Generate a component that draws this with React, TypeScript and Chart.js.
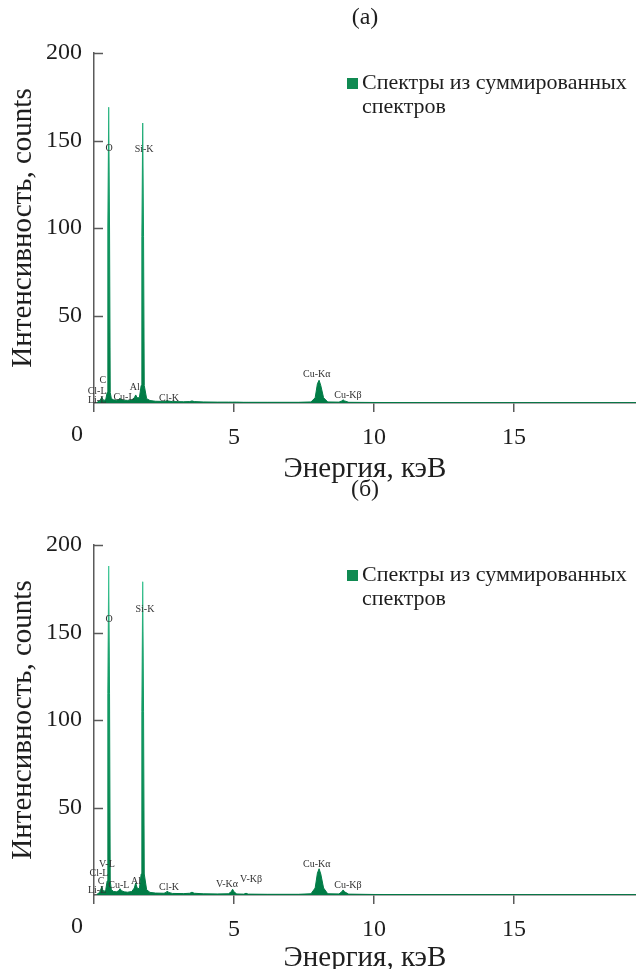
import React, { useEffect, useRef } from 'react';
import { Chart, registerables } from 'chart.js';

Chart.register(...registerables);

// ---------- data ----------
const energy = [
  0.1, 0.2, 0.25, 0.28, 0.31, 0.36, 0.42, 0.47, 0.495, 0.525,
  0.555, 0.58, 0.62, 0.7, 0.8, 0.88, 0.93, 0.98, 1.08, 1.2,
  1.35, 1.44, 1.49, 1.54, 1.62, 1.685, 1.71, 1.74, 1.77, 1.795,
  1.88, 2.0, 2.2, 2.5, 2.58, 2.62, 2.66, 2.8, 3.2, 3.42,
  3.5, 3.58, 3.9, 4.4, 4.8, 4.9, 4.95, 5.0, 5.1, 5.35,
  5.43, 5.51, 6.2, 7.3, 7.75, 7.9, 7.98, 8.04, 8.1, 8.2,
  8.35, 8.75, 8.85, 8.9, 8.95, 9.1, 10, 12, 14, 16,
  18, 19.4,
];

const countsA = [
  0.3, 1.2, 2.5, 3.5, 2.2, 1.5, 2, 6, 100, 169,
  100, 6, 2.5, 1.8, 1.6, 2, 2.6, 2, 1.6, 1.5,
  1.8, 3, 4.6, 3, 3, 10, 95, 160, 95, 10,
  2.5, 1.4, 1, 0.9, 1.1, 1.4, 1.1, 0.8, 0.7, 0.8,
  1.2, 0.8, 0.6, 0.5, 0.5, 0.5, 0.5, 0.5, 0.5, 0.4,
  0.4, 0.4, 0.4, 0.4, 0.6, 3, 11, 13, 10, 3,
  0.6, 0.5, 1.2, 1.8, 1.2, 0.4, 0.3, 0.2, 0.2, 0.2,
  0.2, 0.2,
];

const countsB = [
  0.3, 1.5, 3.5, 5, 3, 2, 3, 8, 115, 188,
  115, 8, 3, 2, 1.8, 2.4, 3.6, 2.5, 1.8, 1.6,
  2, 4, 6.9, 4, 3.5, 12, 105, 179, 105, 12,
  3, 1.5, 1.1, 1, 1.5, 2.3, 1.5, 0.9, 0.8, 1,
  1.6, 1, 0.7, 0.6, 0.7, 1.8, 3.3, 1.8, 0.6, 0.5,
  1, 0.5, 0.4, 0.4, 0.7, 4, 12.5, 15, 12, 4,
  0.7, 0.6, 1.8, 2.9, 1.8, 0.5, 0.3, 0.2, 0.2, 0.2,
  0.2, 0.2,
];

const xTickValues = [0, 5, 10, 15];
const yTickValues = [50, 100, 150, 200];

const peakNamesA = ['O', 'Si-K', 'C', 'Cl-L', 'Li-L', 'Cu-L', 'Al', 'Cl-K', 'Cu-Kα', 'Cu-Kβ'];
const peakEnergyA = [0.54, 1.79, 0.32, 0.11, 0.11, 1.07, 1.46, 2.68, 7.96, 9.07];
const peakCountA = [145.7, 145, 13, 6.9, 1.7, 3.4, 9.1, 2.9, 16.6, 4.6];

const peakNamesB = ['O', 'Si-K', 'V-L', 'Cl-L', 'C', 'Li-L', 'Cu-L', 'Al', 'Cl-K', 'V-Kα', 'V-Kβ', 'Cu-Kα', 'Cu-Kβ'];
const peakEnergyB = [0.54, 1.82, 0.46, 0.18, 0.25, 0.11, 0.89, 1.5, 2.68, 4.75, 5.61, 7.96, 9.07];
const peakCountB = [157.7, 163, 17.7, 12.6, 8, 2.9, 5.7, 8, 4.6, 6.3, 9.1, 17.7, 5.7];

const legendLines = ['Спектры из суммированных', 'спектров'];
const xTitle = 'Энергия, кэВ';
const yTitle = 'Интенсивность, counts';

// ---------- styles ----------
const SERIF = '"Liberation Serif", "Times New Roman", "DejaVu Serif", serif';
const AXIS = '#5a5a5a';
const TEXT = '#1e1e1e';
const GREEN = '#108a52';

type Spec = {
  panel: string;
  counts: number[];
  names: string[];
  pe: number[];
  pc: number[];
  top: number;
  height: number;
  padTop: number;
  axisY: number;
  titleY: number;
  xTitleLH: number;
};

function peakGradient(c: any, stops: [number, string][]) {
  const area = c.chart.chartArea;
  if (!area) return GREEN;
  const g = c.chart.ctx.createLinearGradient(0, area.top, 0, area.bottom);
  stops.forEach(([o, col]) => g.addColorStop(o, col));
  return g;
}

function buildConfig(s: Spec): any {
  const points = energy.map((e, i) => ({ x: e, y: s.counts[i] }));
  const overlay = {
    id: 'overlay',
    afterDatasetsDraw(chart: any) {
      const ctx = chart.ctx;
      const xs = chart.scales.x;
      const ys = chart.scales.y;
      const area = chart.chartArea;
      ctx.save();
      // inward y tick marks
      ctx.strokeStyle = AXIS;
      ctx.lineWidth = 1.5;
      yTickValues.forEach((v) => {
        const py = Math.round(ys.getPixelForValue(v)) + 0.5;
        ctx.beginPath();
        ctx.moveTo(area.left, py);
        ctx.lineTo(area.left + 9, py);
        ctx.stroke();
      });
      // peak labels
      ctx.fillStyle = '#333';
      ctx.font = `10px ${SERIF}`;
      ctx.textAlign = 'center';
      ctx.textBaseline = 'middle';
      s.names.forEach((n, i) => {
        ctx.fillText(n, xs.getPixelForValue(s.pe[i]), ys.getPixelForValue(s.pc[i]));
      });
      // origin label, set left of the axis
      ctx.fillStyle = TEXT;
      ctx.font = `24px ${SERIF}`;
      ctx.textBaseline = 'top';
      ctx.fillText('0', xs.getPixelForValue(0) - 17, area.bottom + 9 + 11);
      // panel title
      ctx.textBaseline = 'middle';
      ctx.fillText(s.panel, (area.left + area.right) / 2, s.titleY);
      // legend
      ctx.fillStyle = GREEN;
      ctx.fillRect(347, s.padTop + 25, 11, 11);
      ctx.fillStyle = TEXT;
      ctx.font = `22px ${SERIF}`;
      ctx.textAlign = 'left';
      ctx.fillText(legendLines[0], 362, s.padTop + 30);
      ctx.fillText(legendLines[1], 362, s.padTop + 54);
      ctx.restore();
    },
  };

  return {
    type: 'line',
    data: {
      datasets: [
        {
          label: legendLines.join(' '),
          data: points,
          parsing: false,
          borderWidth: 1,
          pointRadius: 0,
          tension: 0,
          fill: 'origin',
          borderColor: (c: any) =>
            peakGradient(c, [
              [0, '#4cd3a4'],
              [0.3, '#14a06a'],
              [1, '#007a45'],
            ]),
          backgroundColor: (c: any) =>
            peakGradient(c, [
              [0, '#56d9ac'],
              [0.3, '#1aa86f'],
              [1, '#007b45'],
            ]),
        },
      ],
    },
    options: {
      animation: false,
      responsive: false,
      devicePixelRatio: 1,
      layout: { padding: { top: s.padTop, left: 0, right: 0, bottom: 0 } },
      plugins: { legend: { display: false }, title: { display: false }, tooltip: { enabled: false } },
      scales: {
        x: {
          type: 'linear',
          min: 0,
          max: 19.36,
          afterBuildTicks: (sc: any) => {
            sc.ticks = xTickValues.map((v) => ({ value: v }));
          },
          afterFit: (sc: any) => {
            sc.height = s.height - s.axisY;
          },
          ticks: {
            autoSkip: false,
            maxRotation: 0,
            padding: 11,
            font: { family: SERIF, size: 24 },
            color: (c: any) => (c.tick && c.tick.value === 0 ? 'rgba(0,0,0,0)' : TEXT),
          },
          grid: { drawOnChartArea: false, tickLength: 9, color: AXIS, lineWidth: 1.5 },
          border: { color: AXIS, width: 1.5 },
          title: {
            display: true,
            text: xTitle,
            color: TEXT,
            font: { family: SERIF, size: 29, lineHeight: s.xTitleLH },
            padding: { top: 0, bottom: 0 },
          },
        },
        y: {
          type: 'linear',
          min: 0,
          max: 200,
          afterBuildTicks: (sc: any) => {
            sc.ticks = yTickValues.map((v) => ({ value: v }));
          },
          afterFit: (sc: any) => {
            sc.width = 94;
          },
          ticks: {
            padding: 12,
            font: { family: SERIF, size: 24 },
            color: TEXT,
          },
          grid: { drawOnChartArea: false, drawTicks: false, tickLength: 0 },
          border: { color: AXIS, width: 1.5 },
          title: {
            display: true,
            text: yTitle,
            color: TEXT,
            font: { family: SERIF, size: 29, lineHeight: 1 },
            padding: { top: 9, bottom: 0 },
          },
        },
      },
    },
    plugins: [overlay],
  };
}

function SpectrumChart({ spec }: { spec: Spec }) {
  const ref = useRef<HTMLCanvasElement>(null);
  useEffect(() => {
    if (!ref.current) return;
    const chart = new Chart(ref.current, buildConfig(spec));
    return () => chart.destroy();
  }, [spec]);
  return (
    <canvas
      ref={ref}
      width={636}
      height={spec.height}
      style={{ position: 'absolute', left: 0, top: spec.top, width: 636, height: spec.height }}
    />
  );
}

const specA: Spec = {
  panel: '(a)',
  counts: countsA,
  names: peakNamesA,
  pe: peakEnergyA,
  pc: peakCountA,
  top: 0,
  height: 484,
  padTop: 53,
  axisY: 403,
  titleY: 18,
  xTitleLH: 1,
};

const specB: Spec = {
  panel: '(б)',
  counts: countsB,
  names: peakNamesB,
  pe: peakEnergyB,
  pc: peakCountB,
  top: 474,
  height: 495,
  padTop: 71,
  axisY: 421,
  titleY: 16,
  xTitleLH: 0.76,
};

export default function App() {
  return (
    <div style={{ position: 'absolute', left: 0, top: 0, width: 636, height: 969, background: '#fff' }}>
      <SpectrumChart spec={specA} />
      <SpectrumChart spec={specB} />
    </div>
  );
}
